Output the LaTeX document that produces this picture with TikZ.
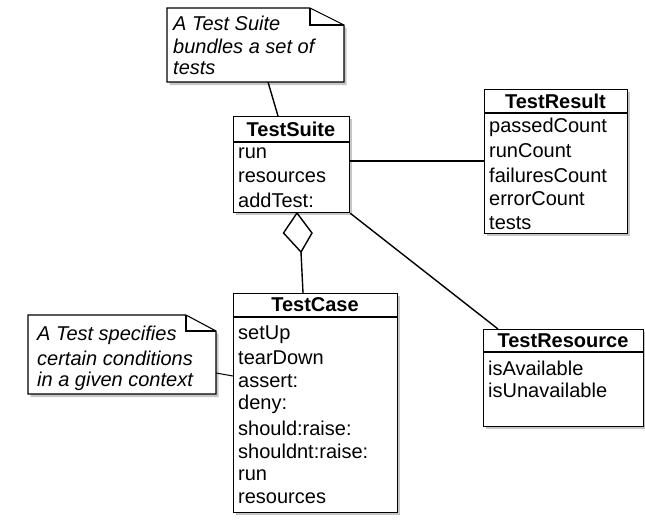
\documentclass[tikz,border=0pt]{standalone}
\usepackage{fontspec}
\setmainfont{Liberation Sans}
\usetikzlibrary{shadows}
\begin{document}
\begin{tikzpicture}[x=1pt,y=-1pt,
  box/.style={draw=black, line width=1.2pt, fill=white, anchor=north west, inner sep=0pt,
    drop shadow={shadow xshift=2.5pt, shadow yshift=-2.5pt, opacity=0.45}},
  title/.style={font=\fontsize{20}{23}\selectfont\bfseries, inner sep=0pt},
  item/.style={font=\fontsize{20}{23}\selectfont, anchor=west, inner sep=0pt},
  notetext/.style={font=\fontsize{20}{23}\selectfont\itshape, anchor=west, inner sep=0pt},
  conn/.style={line width=1.4pt, black},
  notebody/.style={draw=black, line width=1.1pt, fill=white,
    drop shadow={shadow xshift=2.5pt, shadow yshift=-3pt, opacity=0.45}},
]
\useasboundingbox (0,0) rectangle (645,520);

% ---------- note 1 ----------
\filldraw[notebody] (167,8) -- (310,8) -- (344,25) -- (344,82) -- (167,82) -- cycle;
\draw[line width=1.1pt] (310,8) -- (310,25) -- (344,25);
\node[notetext] (n1a) at (173,23) {A Test Suite};
\node[notetext] (n1b) at (173,46) {bundles a set of};
\node[notetext] (n1c) at (173,68) {tests};
\coordinate (n1foot) at (268,82);

% ---------- TestSuite ----------
\node[box, minimum width=116pt, minimum height=96pt] (suite) at (233,116) {};
\draw[line width=1.2pt] (233,142) -- (349,142);
\node[title] (suiteT) at (291,129.5) {TestSuite};
\node[item] (s1) at (238,153) {run};
\node[item] (s2) at (238,177) {resources};
\node[item] (s3) at (238,200) {addTest:};

% ---------- TestResult ----------
\node[box, minimum width=143pt, minimum height=144pt] (result) at (484,89) {};
\draw[line width=1.2pt] (484,113) -- (627,113);
\node[title] (resultT) at (555.5,101) {TestResult};
\node[item] (r1) at (489,127) {passedCount};
\node[item] (r2) at (489,151) {runCount};
\node[item] (r3) at (489,175) {failuresCount};
\node[item] (r4) at (489,199) {errorCount};
\node[item] (r5) at (489,223) {tests};

% ---------- TestCase ----------
\node[box, minimum width=164pt, minimum height=219pt] (case) at (233,293) {};
\draw[line width=1.2pt] (233,317) -- (397,317);
\node[title] (caseT) at (315,305) {TestCase};
\node[item] (c1) at (238,335) {setUp};
\node[item] (c2) at (238,358) {tearDown};
\node[item] (c3) at (238,381) {assert:};
\node[item] (c4) at (238,404) {deny:};
\node[item] (c5) at (238,428) {should:raise:};
\node[item] (c6) at (238,451) {shouldnt:raise:};
\node[item] (c7) at (238,475) {run};
\node[item] (c8) at (238,498) {resources};

% ---------- TestResource ----------
\node[box, minimum width=160pt, minimum height=97pt] (resource) at (483,329) {};
\draw[line width=1.2pt] (483,352) -- (643,352);
\node[title] (resourceT) at (563,340.5) {TestResource};
\node[item] (t1) at (488,368) {isAvailable};
\node[item] (t2) at (488,390) {isUnavailable};

% ---------- note 2 ----------
\filldraw[notebody] (28,315) -- (186,315) -- (216,331) -- (216,394) -- (28,394) -- cycle;
\draw[line width=1.1pt] (186,315) -- (186,331) -- (216,331);
\node[notetext] (n2a) at (37,335) {A Test specifies};
\node[notetext] (n2b) at (37,358) {certain conditions};
\node[notetext] (n2c) at (37,381) {in a given context};
\coordinate (n2side) at (216,373);

% ---------- connectors ----------
\draw[conn] (n1foot) -- (suite.north west -| 278,0);
\draw[conn] (suite.east |- 0,161) -- (result.west |- 0,161);
\draw[conn] (suite.south east) -- (resource.north west -| 498,0);
\coordinate (dtop) at (297,213);
\draw[conn, fill=white] (dtop) -- (283.5,233) -- (301,252) -- (312,233) -- cycle;
\draw[conn] (301,252) -- (case.north west -| 303,0);
\draw[line width=1pt] (n2side) -- (case.west |- 0,376);
\end{tikzpicture}
\end{document}
